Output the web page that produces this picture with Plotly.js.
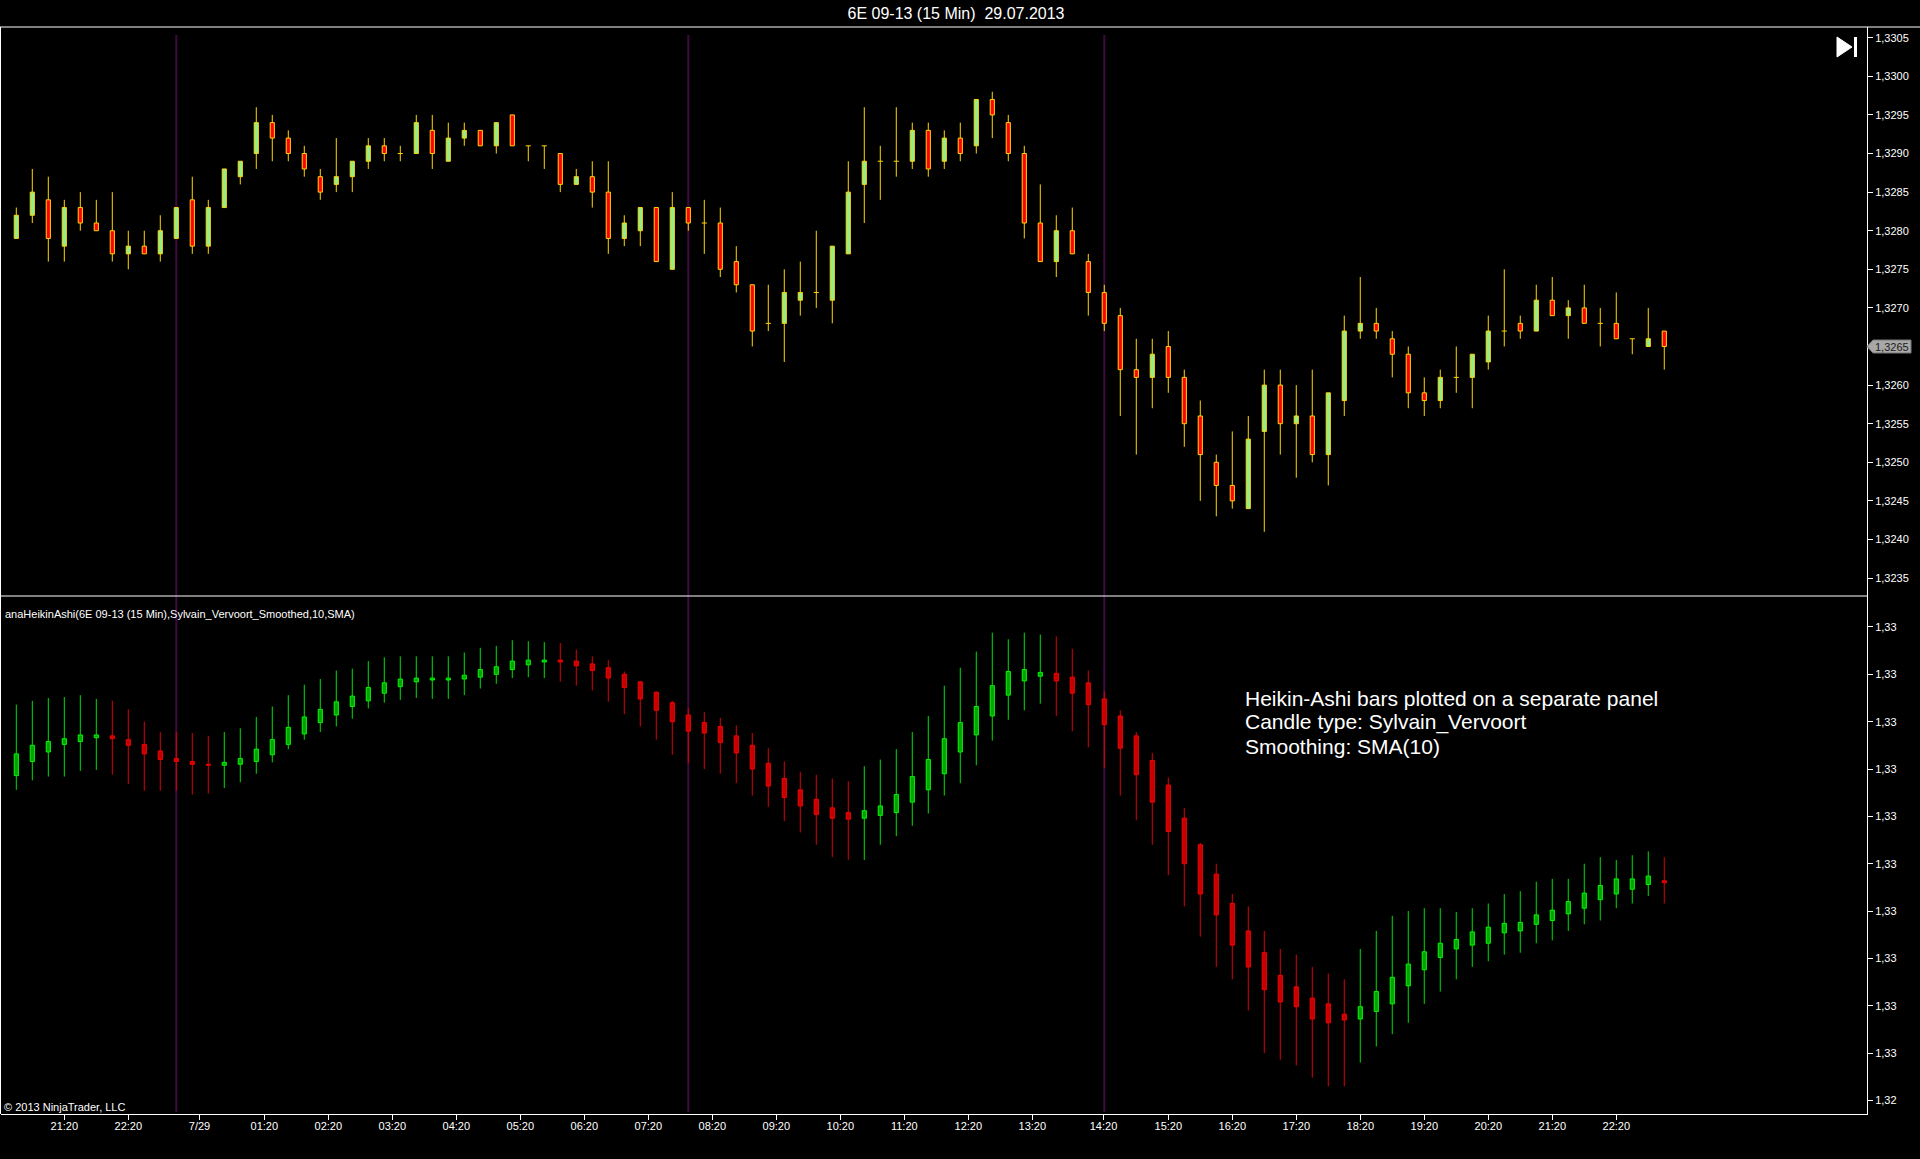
<!DOCTYPE html>
<html>
<head>
<meta charset="utf-8">
<script src="https://cdn.plot.ly/plotly-3.0.1.min.js"></script>
<style>
html,body{margin:0;padding:0;background:#000;}
#chart{width:1920px;height:1159px;}
</style>
</head>
<body>
<div id="chart"></div>
<script>
// ---------- Price panel (6E 09-13, 15 Min) ----------
const priceOpen = [1.3279,1.3282,1.3284,1.3278,1.3283,1.3281,1.3280,1.3277,1.3278,1.3277,
1.3279,1.3284,1.3278,1.3283,1.3287,1.3290,1.3294,1.3292,1.3290,1.3287,
1.3286,1.3287,1.3289,1.3291,1.3290,1.3290,1.3293,1.3289,1.3292,1.3293,
1.3291,1.3295,1.3291,1.3291,1.3290,1.3286,1.3287,1.3285,1.3279,1.3280,
1.3283,1.3275,1.3283,1.3281,1.3281,1.3276,1.3273,1.3268,1.3268,1.3271,
1.3272,1.3271,1.3277,1.3286,1.3289,1.3289,1.3289,1.3293,1.3289,1.3292,
1.3291,1.3297,1.3294,1.3290,1.3281,1.3276,1.3280,1.3276,1.3272,1.3269,
1.3262,1.3261,1.3265,1.3261,1.3256,1.3250,1.3247,1.3244,1.3254,1.3260,
1.3255,1.3256,1.3251,1.3258,1.3267,1.3268,1.3266,1.3264,1.3259,1.3258,
1.3261,1.3261,1.3263,1.3267,1.3268,1.3267,1.3271,1.3269,1.3270,1.3268,
1.3268,1.3266,1.3265,1.3267];
const priceHigh = [1.3283,1.3288,1.3287,1.3284,1.3285,1.3284,1.3285,1.3280,1.3280,1.3282,
1.3283,1.3287,1.3284,1.3288,1.3289,1.3296,1.3295,1.3293,1.3291,1.3288,
1.3292,1.3289,1.3292,1.3292,1.3291,1.3295,1.3295,1.3294,1.3294,1.3293,
1.3294,1.3295,1.3291,1.3291,1.3290,1.3288,1.3289,1.3289,1.3282,1.3283,
1.3283,1.3285,1.3283,1.3284,1.3283,1.3278,1.3273,1.3273,1.3275,1.3276,
1.3280,1.3278,1.3289,1.3296,1.3291,1.3296,1.3294,1.3294,1.3293,1.3294,
1.3297,1.3298,1.3295,1.3291,1.3286,1.3282,1.3283,1.3277,1.3273,1.3270,
1.3266,1.3266,1.3267,1.3262,1.3258,1.3251,1.3254,1.3256,1.3262,1.3262,
1.3260,1.3262,1.3259,1.3269,1.3274,1.3270,1.3267,1.3265,1.3261,1.3262,
1.3265,1.3264,1.3269,1.3275,1.3269,1.3273,1.3274,1.3271,1.3273,1.3270,
1.3272,1.3266,1.3270,1.3267];
const priceLow = [1.3279,1.3281,1.3276,1.3276,1.3280,1.3280,1.3276,1.3275,1.3277,1.3276,
1.3279,1.3277,1.3277,1.3283,1.3286,1.3288,1.3289,1.3289,1.3287,1.3284,
1.3285,1.3285,1.3288,1.3289,1.3289,1.3290,1.3288,1.3289,1.3291,1.3291,
1.3290,1.3291,1.3289,1.3288,1.3285,1.3286,1.3283,1.3277,1.3278,1.3278,
1.3276,1.3275,1.3280,1.3277,1.3274,1.3272,1.3265,1.3267,1.3263,1.3269,
1.3270,1.3268,1.3277,1.3281,1.3284,1.3287,1.3288,1.3287,1.3288,1.3289,
1.3290,1.3292,1.3289,1.3279,1.3276,1.3274,1.3277,1.3269,1.3267,1.3256,
1.3251,1.3257,1.3259,1.3252,1.3245,1.3243,1.3244,1.3244,1.3241,1.3251,
1.3248,1.3250,1.3247,1.3256,1.3266,1.3266,1.3261,1.3257,1.3256,1.3257,
1.3259,1.3257,1.3262,1.3265,1.3266,1.3267,1.3269,1.3266,1.3268,1.3265,
1.3266,1.3264,1.3265,1.3262];
const priceClose = [1.3282,1.3285,1.3279,1.3283,1.3281,1.3280,1.3277,1.3278,1.3277,1.3280,
1.3283,1.3278,1.3283,1.3288,1.3289,1.3294,1.3292,1.3290,1.3288,1.3285,
1.3287,1.3289,1.3291,1.3290,1.3290,1.3294,1.3290,1.3292,1.3293,1.3291,
1.3294,1.3291,1.3291,1.3291,1.3286,1.3287,1.3285,1.3279,1.3281,1.3283,
1.3276,1.3283,1.3281,1.3281,1.3275,1.3273,1.3267,1.3268,1.3272,1.3272,
1.3272,1.3278,1.3285,1.3289,1.3289,1.3289,1.3293,1.3288,1.3292,1.3290,
1.3297,1.3295,1.3290,1.3281,1.3276,1.3280,1.3277,1.3272,1.3268,1.3262,
1.3261,1.3264,1.3261,1.3255,1.3251,1.3247,1.3245,1.3253,1.3260,1.3255,
1.3256,1.3251,1.3259,1.3267,1.3268,1.3267,1.3264,1.3259,1.3258,1.3261,
1.3261,1.3264,1.3267,1.3267,1.3267,1.3271,1.3269,1.3270,1.3268,1.3268,
1.3266,1.3266,1.3266,1.3265];

// ---------- Heikin-Ashi panel (Sylvain Vervoort, SMA(10)) ----------
const haOpen = [1.32793,1.32808,1.32818,1.32826,1.32829,1.32833,1.32835,1.32831,1.32826,1.32819,
1.32811,1.32808,1.32805,1.32804,1.32805,1.32808,1.32815,1.32826,1.32837,1.32849,
1.32857,1.32866,1.32872,1.32880,1.32887,1.32892,1.32894,1.32894,1.32895,1.32897,
1.32900,1.32905,1.32910,1.32913,1.32915,1.32914,1.32911,1.32907,1.32900,1.32892,
1.32881,1.32870,1.32857,1.32849,1.32845,1.32835,1.32825,1.32806,1.32790,1.32778,
1.32768,1.32759,1.32754,1.32748,1.32751,1.32754,1.32765,1.32778,1.32795,1.32818,
1.32836,1.32856,1.32878,1.32893,1.32898,1.32901,1.32897,1.32891,1.32874,1.32856,
1.32835,1.32809,1.32783,1.32748,1.32720,1.32689,1.32658,1.32629,1.32606,1.32582,
1.32570,1.32558,1.32552,1.32541,1.32536,1.32544,1.32552,1.32571,1.32588,1.32601,
1.32610,1.32614,1.32616,1.32627,1.32629,1.32636,1.32640,1.32647,1.32653,1.32662,
1.32668,1.32673,1.32678,1.32682];
const haHigh = [1.32868,1.32872,1.32875,1.32876,1.32878,1.32874,1.32872,1.32863,1.32850,1.32839,
1.32839,1.32838,1.32835,1.32839,1.32843,1.32855,1.32866,1.32878,1.32889,1.32895,
1.32904,1.32906,1.32914,1.32918,1.32919,1.32919,1.32919,1.32919,1.32923,1.32928,
1.32930,1.32936,1.32935,1.32934,1.32933,1.32926,1.32919,1.32915,1.32903,1.32893,
1.32882,1.32872,1.32864,1.32860,1.32854,1.32846,1.32838,1.32822,1.32808,1.32797,
1.32794,1.32790,1.32787,1.32803,1.32810,1.32821,1.32839,1.32856,1.32888,1.32907,
1.32924,1.32944,1.32937,1.32944,1.32942,1.32940,1.32927,1.32904,1.32882,1.32862,
1.32839,1.32817,1.32791,1.32759,1.32722,1.32700,1.32668,1.32655,1.32629,1.32610,
1.32604,1.32591,1.32584,1.32578,1.32610,1.32629,1.32645,1.32650,1.32653,1.32653,
1.32649,1.32653,1.32658,1.32668,1.32671,1.32681,1.32684,1.32684,1.32700,1.32707,
1.32704,1.32709,1.32713,1.32707];
const haLow = [1.32778,1.32788,1.32792,1.32792,1.32798,1.32799,1.32794,1.32784,1.32777,1.32777,
1.32777,1.32773,1.32774,1.32780,1.32786,1.32795,1.32807,1.32821,1.32831,1.32839,
1.32845,1.32853,1.32864,1.32870,1.32873,1.32875,1.32874,1.32874,1.32878,1.32885,
1.32890,1.32896,1.32897,1.32896,1.32892,1.32888,1.32883,1.32871,1.32858,1.32845,
1.32831,1.32815,1.32806,1.32800,1.32795,1.32785,1.32772,1.32760,1.32745,1.32733,
1.32720,1.32707,1.32704,1.32704,1.32720,1.32729,1.32740,1.32753,1.32772,1.32785,
1.32804,1.32830,1.32852,1.32862,1.32869,1.32856,1.32840,1.32823,1.32801,1.32772,
1.32746,1.32720,1.32688,1.32655,1.32623,1.32591,1.32578,1.32545,1.32500,1.32493,
1.32487,1.32474,1.32465,1.32465,1.32490,1.32507,1.32520,1.32532,1.32552,1.32565,
1.32578,1.32591,1.32597,1.32604,1.32606,1.32616,1.32619,1.32629,1.32636,1.32640,
1.32653,1.32658,1.32666,1.32658];
const haClose = [1.32816,1.32825,1.32829,1.32832,1.32836,1.32836,1.32832,1.32825,1.32816,1.32810,
1.32808,1.32805,1.32804,1.32807,1.32811,1.32821,1.32831,1.32844,1.32855,1.32863,
1.32871,1.32877,1.32886,1.32891,1.32895,1.32896,1.32896,1.32896,1.32899,1.32905,
1.32908,1.32914,1.32915,1.32915,1.32913,1.32909,1.32904,1.32896,1.32886,1.32874,
1.32862,1.32850,1.32840,1.32838,1.32828,1.32817,1.32800,1.32782,1.32770,1.32761,
1.32752,1.32748,1.32747,1.32756,1.32761,1.32773,1.32792,1.32810,1.32832,1.32849,
1.32866,1.32888,1.32903,1.32905,1.32902,1.32893,1.32880,1.32868,1.32847,1.32822,
1.32794,1.32765,1.32734,1.32700,1.32668,1.32646,1.32614,1.32591,1.32567,1.32554,
1.32549,1.32536,1.32532,1.32535,1.32549,1.32565,1.32580,1.32594,1.32607,1.32616,
1.32620,1.32628,1.32633,1.32637,1.32638,1.32646,1.32651,1.32660,1.32669,1.32677,
1.32684,1.32684,1.32687,1.32680];

// ---------- Axes ----------
const timeTickPos = [3,7,11.45,15.5,19.5,23.5,27.5,31.5,35.5,39.5,43.5,47.5,51.5,55.5,59.5,63.5,67.95,72,76,80,84,88,92,96,100];
const timeTickText = ['21:20','22:20','7/29','01:20','02:20','03:20','04:20','05:20','06:20','07:20','08:20','09:20','10:20','11:20','12:20','13:20','14:20','15:20','16:20','17:20','18:20','19:20','20:20','21:20','22:20'];
const priceTickVals = [1.3235,1.3240,1.3245,1.3250,1.3255,1.3260,1.3265,1.3270,1.3275,1.3280,1.3285,1.3290,1.3295,1.3300,1.3305];
const priceTickText = ['1,3235','1,3240','1,3245','1,3250','1,3255','1,3260','1,3265','1,3270','1,3275','1,3280','1,3285','1,3290','1,3295','1,3300','1,3305'];
const haTickVals = [1.3245,1.3250,1.3255,1.3260,1.3265,1.3270,1.3275,1.3280,1.3285,1.3290,1.3295];
const haTickText = ['1,32','1,33','1,33','1,33','1,33','1,33','1,33','1,33','1,33','1,33','1,33'];
const sessionBreaks = [10, 42, 68];
const lastPrice = 1.3265;
const lastPriceText = '1,3265';

const W = 1920, H = 1159;
const px = v => v / W;
const py = v => 1 - v / H;
const FONT = 'Liberation Sans, Arial, sans-serif';

function candleTraces(O, Hh, L, C, st, xa, ya, w) {
  const up = {x: [], base: [], y: []}, dn = {x: [], base: [], y: []};
  const wu = {x: [], y: []}, wd = {x: [], y: []}, dj = {x: [], y: []};
  O.forEach((o, i) => {
    const c = C[i], hi = Hh[i], lo = L[i];
    const top = Math.max(o, c), bot = Math.min(o, c);
    const isUp = c >= o;
    const wk = isUp ? wu : wd;
    if (hi > top) { wk.x.push(i, i, null); wk.y.push(top, hi, null); }
    if (lo < bot) { wk.x.push(i, i, null); wk.y.push(lo, bot, null); }
    if (c === o) { dj.x.push(i - w / 2 - 0.03, i + w / 2 + 0.03, null); dj.y.push(o, o, null); }
    else { const b = isUp ? up : dn; b.x.push(i); b.base.push(bot); b.y.push(top - bot); }
  });
  const line = (d, col) => ({type: 'scatter', mode: 'lines', x: d.x, y: d.y, xaxis: xa, yaxis: ya,
    line: {color: col, width: 1}, hoverinfo: 'skip', showlegend: false});
  const bar = (d, fill, edge) => ({type: 'bar', x: d.x, y: d.y, base: d.base, width: w, xaxis: xa, yaxis: ya,
    marker: {color: fill, line: {color: edge, width: 1}}, hoverinfo: 'skip', showlegend: false});
  return [line(wu, st.upWick), line(wd, st.dnWick), line(dj, st.doji),
          bar(up, st.upFill, st.upEdge), bar(dn, st.dnFill, st.dnEdge)];
}

const traces = [].concat(
  candleTraces(priceOpen, priceHigh, priceLow, priceClose,
    {upWick: '#ffd700', dnWick: '#ffd700', doji: '#ffd700', upFill: '#90ee90', upEdge: '#ffd700', dnFill: '#ff0000', dnEdge: '#ffd700'},
    'x', 'y', 0.26),
  candleTraces(haOpen, haHigh, haLow, haClose,
    {upWick: '#00e000', dnWick: '#e00000', doji: '#00e000', upFill: '#00a000', upEdge: '#00ff00', dnFill: '#c00000', dnEdge: '#ff0000'},
    'x', 'y2', 0.26)
);

const shapes = [];
sessionBreaks.forEach(b => shapes.push({type: 'line', xref: 'x', yref: 'paper', x0: b, x1: b,
  y0: py(1112), y1: py(35), line: {color: '#3e0a40', width: 2}, layer: 'below'}));
shapes.push({type: 'line', xref: 'paper', yref: 'paper', x0: 0, x1: 1, y0: py(27), y1: py(27), line: {color: '#ffffff', width: 1}});
shapes.push({type: 'line', xref: 'paper', yref: 'paper', x0: 0, x1: px(1867), y0: py(596), y1: py(596), line: {color: '#ffffff', width: 1}});
shapes.push({type: 'line', xref: 'paper', yref: 'paper', x0: px(0.5), x1: px(0.5), y0: py(27), y1: py(1114), line: {color: '#ffffff', width: 1}});
shapes.push({type: 'path', xref: 'paper', yref: 'paper',
  path: `M ${px(1837)},${py(37)} L ${px(1852)},${py(47)} L ${px(1837)},${py(57)} Z`,
  fillcolor: '#ffffff', line: {color: '#ffffff', width: 1}});
shapes.push({type: 'rect', xref: 'paper', yref: 'paper', x0: px(1854), x1: px(1857), y0: py(57), y1: py(37),
  fillcolor: '#ffffff', line: {width: 0}});
shapes.push({type: 'path', xref: 'paper', yref: 'y', xsizemode: 'pixel', ysizemode: 'pixel',
  xanchor: px(1867), yanchor: lastPrice,
  path: 'M 0,0 L 6,6.5 L 44,6.5 L 44,-6.5 L 6,-6.5 Z',
  fillcolor: '#a8a8a8', line: {color: '#787878', width: 1}});

const annotations = [
  {xref: 'paper', yref: 'y', x: px(1892), y: lastPrice, text: lastPriceText, showarrow: false,
   xanchor: 'center', yanchor: 'middle', font: {size: 11, color: '#202020', family: FONT}},
  {xref: 'paper', yref: 'paper', x: px(3), y: py(614), text: 'anaHeikinAshi(6E 09-13 (15 Min),Sylvain_Vervoort_Smoothed,10,SMA)',
   showarrow: false, xanchor: 'left', yanchor: 'middle', font: {size: 11, color: '#ffffff', family: FONT}},
  {xref: 'paper', yref: 'paper', x: px(2), y: py(1107), text: '© 2013 NinjaTrader, LLC',
   showarrow: false, xanchor: 'left', yanchor: 'middle', font: {size: 11, color: '#ffffff', family: FONT}},
  {xref: 'paper', yref: 'paper', x: px(1243), y: py(698), text: 'Heikin-Ashi bars plotted on a separate panel',
   showarrow: false, xanchor: 'left', yanchor: 'middle', font: {size: 21, color: '#ffffff', family: FONT}},
  {xref: 'paper', yref: 'paper', x: px(1243), y: py(722), text: 'Candle type: Sylvain_Vervoort',
   showarrow: false, xanchor: 'left', yanchor: 'middle', font: {size: 21, color: '#ffffff', family: FONT}},
  {xref: 'paper', yref: 'paper', x: px(1243), y: py(746), text: 'Smoothing: SMA(10)',
   showarrow: false, xanchor: 'left', yanchor: 'middle', font: {size: 21, color: '#ffffff', family: FONT}}
];

const axisFont = {size: 11, color: '#ffffff', family: FONT};
const layout = {
  width: W, height: H,
  margin: {l: 0, r: 0, t: 0, b: 0, pad: 0},
  paper_bgcolor: '#000000', plot_bgcolor: '#000000',
  barmode: 'overlay',
  showlegend: false,
  title: {text: '6E 09-13 (15 Min)  29.07.2013', x: px(956), y: py(13), xanchor: 'center', yanchor: 'middle',
          font: {size: 16, color: '#ffffff', family: FONT}},
  xaxis: {domain: [px(1), px(1867)], range: [-0.956, 115.67], anchor: 'y2',
          showgrid: false, zeroline: false, showline: true, linecolor: '#ffffff', linewidth: 1,
          ticks: 'outside', ticklen: 5, tickcolor: '#ffffff', tickwidth: 1, ticklabelstandoff: -3,
          tickmode: 'array', tickvals: timeTickPos, ticktext: timeTickText, tickfont: axisFont, fixedrange: true},
  yaxis: {domain: [py(596), py(27)], range: [1.323268, 1.330639], anchor: 'x', side: 'right',
          showgrid: false, zeroline: false, showline: true, linecolor: '#ffffff', linewidth: 1,
          ticks: 'outside', ticklen: 5, tickcolor: '#ffffff', tickwidth: 1,
          tickmode: 'array', tickvals: priceTickVals, ticktext: priceTickText, tickfont: axisFont, fixedrange: true},
  yaxis2: {domain: [py(1114), py(596)], range: [1.324357, 1.329827], anchor: 'x', side: 'right',
          showgrid: false, zeroline: false, showline: true, linecolor: '#ffffff', linewidth: 1,
          ticks: 'outside', ticklen: 5, tickcolor: '#ffffff', tickwidth: 1,
          tickmode: 'array', tickvals: haTickVals, ticktext: haTickText, tickfont: axisFont, fixedrange: true},
  shapes: shapes,
  annotations: annotations
};

Plotly.newPlot('chart', traces, layout, {displayModeBar: false, staticPlot: true});
</script>
</body>
</html>
